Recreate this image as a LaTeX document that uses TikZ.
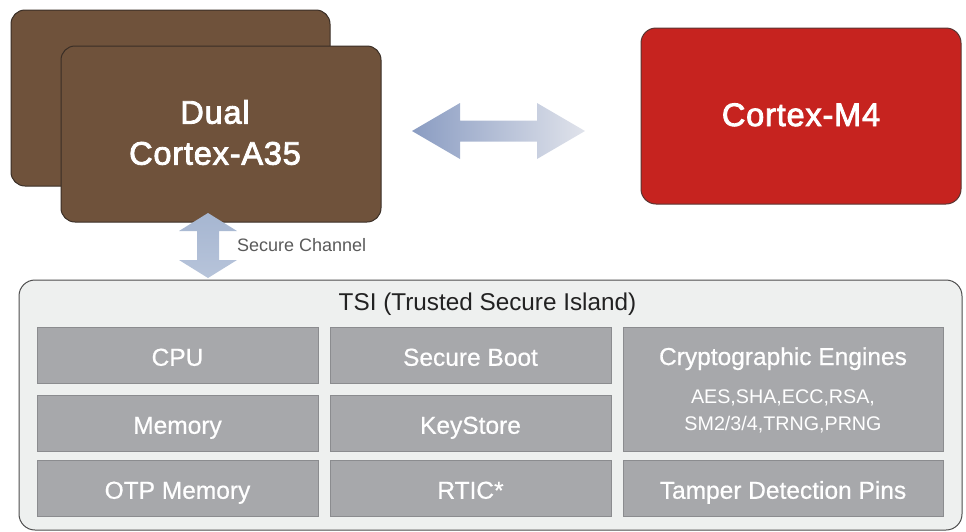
\documentclass[tikz,border=0pt]{standalone}
\usepackage{fontspec}
\setmainfont{Liberation Sans}
\newfontfamily\corefont[FakeBold=2.6,LetterSpace=2.5]{Liberation Sans}
\newfontfamily\cellfont[FakeBold=0.6]{Liberation Sans}
\usetikzlibrary{calc}
\definecolor{brownbox}{HTML}{6F523B}
\definecolor{brownline}{HTML}{3A2E26}
\definecolor{redbox}{HTML}{C6231F}
\definecolor{redline}{HTML}{5A3532}
\definecolor{tsifill}{HTML}{EEF0EF}
\definecolor{tsiline}{HTML}{4D4D4D}
\definecolor{cellfill}{HTML}{A7A8AB}
\definecolor{cellline}{HTML}{8B8C8F}
\definecolor{arrowA}{HTML}{8A9CC2}
\definecolor{arrowB}{HTML}{E0E3EB}
\definecolor{varrowtop}{HTML}{A6B6D1}
\definecolor{varrowbot}{HTML}{B7C4DA}
\definecolor{chantext}{HTML}{5A5A5A}
\definecolor{titletext}{HTML}{222222}
\begin{document}
\begin{tikzpicture}[x=1pt,y=-1pt,
  corebox/.style={draw=brownline,fill=brownbox,line width=1pt,rounded corners=14pt,
    anchor=north west,inner sep=0pt,outer sep=0pt,minimum width=320pt,minimum height=176pt},
  redcore/.style={draw=redline,fill=redbox,line width=1pt,rounded corners=15pt,
    anchor=north west,inner sep=0pt,outer sep=0pt,minimum width=320pt,minimum height=176pt,
    text=white,font=\corefont\fontsize{32.5}{41}\selectfont,text height=20pt,text depth=0pt},
  bigtext/.style={text=white,font=\corefont\fontsize{32.5}{41}\selectfont,align=center,inner sep=0pt},
  tsibox/.style={draw=tsiline,fill=tsifill,line width=1pt,rounded corners=16pt,
    anchor=north west,inner sep=0pt,outer sep=0pt},
  cell/.style={draw=cellline,fill=cellfill,line width=0.8pt,anchor=north west,inner sep=0pt,
    outer sep=0pt,minimum height=56.5pt,minimum width=281pt,text=white,
    font=\cellfont\fontsize{24.5}{28}\selectfont,text height=21pt,text depth=0pt},
  celltext/.style={text=white,inner sep=0pt,anchor=base},
]
\useasboundingbox (0,0) rectangle (966,531);

% cores
\node[corebox,minimum width=319pt] (a35back) at (11,10) {};
\node[corebox] (a35) at (61,46) {};
\node[bigtext] (a35label) at (215,132.5) {Dual\\Cortex-A35};
\node[redcore] (m4) at (641,28) {Cortex-M4};

% TSI
\node[tsibox,minimum width=943pt,minimum height=250pt] (tsi) at (19,280) {};
\node[anchor=base,inner sep=0pt,text=titletext,font=\fontsize{24.3}{28}\selectfont] (tsititle) at (487.5,310) {TSI (Trusted Secure Island)};

\node[cell] (cpu) at (37,327) {CPU};
\node[cell] (sboot) at (330,327) {Secure Boot};
\node[cell,minimum width=320pt,minimum height=124.5pt] (crypto) at (623,327) {};
\node[celltext,font=\cellfont\fontsize{24.5}{28}\selectfont] (cryptitle) at (783,365) {Cryptographic Engines};
\node[celltext,font=\fontsize{19.7}{27}\selectfont] (crysubA) at (783,403) {AES,SHA,ECC,RSA,};
\node[celltext,font=\fontsize{19.7}{27}\selectfont] (crysubB) at (783,430) {SM2/3/4,TRNG,PRNG};
\node[cell] (mem) at (37,395) {Memory};
\node[cell] (keys) at (330,395) {KeyStore};
\node[cell] (otp) at (37,460) {OTP Memory};
\node[cell] (rtic) at (330,460) {RTIC*};
\node[cell,minimum width=320pt] (tamper) at (623,460) {Tamper Detection Pins};

% vertical secure channel arrow
\coordinate (vtop) at ($(a35.south)+(-13,-9)$);
\coordinate (vbot) at ($(vtop |- tsi.north)+(0,-2)$);
\shade[top color=varrowtop,bottom color=varrowbot]
  (vtop) -- ++(29,18) -- ++(-18,0) -- ++(0,29) -- ++(18,0) -- (vbot)
  -- ++(-29,-18) -- ++(18,0) -- ++(0,-29) -- ++(-18,0) -- cycle;
\node[anchor=base west,inner sep=0pt,text=chantext,font=\fontsize{18}{22}\selectfont] (chan) at (237,251) {Secure Channel};

% horizontal arrow between cores
\coordinate (hl) at ($(a35.east)+(31,-3)$);
\coordinate (hr) at ($(m4.west)+(-56,15)$);
\shade[left color=arrowA,right color=arrowB]
  (hl) -- ++(48,-28) -- ++(0,17.5) -- ++(77,0) -- ++(0,-17.5) -- (hr)
  -- ++(-48,28) -- ++(0,-17.5) -- ++(-77,0) -- ++(0,17.5) -- cycle;
\end{tikzpicture}
\end{document}
